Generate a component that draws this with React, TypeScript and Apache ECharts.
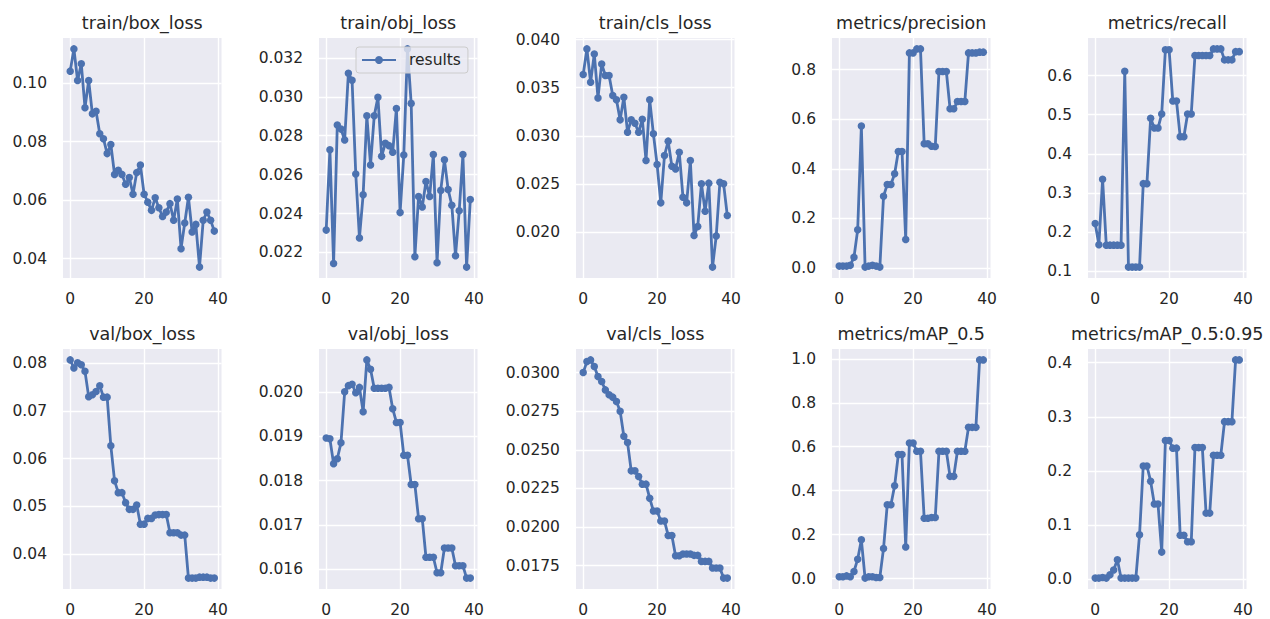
import React, { useEffect, useRef } from "react";
import * as echarts from "echarts";

// ---- data ----
const epochs = [0, 1, 2, 3, 4, 5, 6, 7, 8, 9, 10, 11, 12, 13, 14, 15, 16, 17, 18, 19, 20, 21, 22, 23, 24, 25, 26, 27, 28, 29, 30, 31, 32, 33, 34, 35, 36, 37, 38, 39];
const xTicks = [0, 20, 40];

const trainBoxLoss = [0.1041, 0.1117, 0.1009, 0.1066, 0.0916, 0.1009, 0.0895, 0.0904, 0.0827, 0.081, 0.0759, 0.079, 0.0688, 0.0702, 0.0688, 0.0654, 0.0677, 0.062, 0.0694, 0.072, 0.062, 0.0593, 0.0565, 0.0608, 0.0574, 0.0544, 0.0559, 0.0588, 0.0531, 0.0604, 0.0434, 0.0522, 0.061, 0.0491, 0.0517, 0.0371, 0.0531, 0.0559, 0.0531, 0.0494];
const trainObjLoss = [0.02315, 0.02728, 0.02144, 0.02855, 0.02834, 0.02778, 0.03121, 0.03085, 0.02603, 0.02275, 0.02497, 0.02902, 0.0265, 0.02902, 0.02997, 0.02694, 0.02761, 0.02749, 0.02715, 0.0294, 0.02405, 0.02701, 0.03246, 0.02966, 0.02178, 0.02488, 0.02434, 0.02565, 0.02488, 0.02703, 0.02147, 0.02519, 0.02676, 0.02524, 0.02443, 0.02183, 0.02414, 0.02703, 0.02125, 0.02472];
const trainClsLoss = [0.03637, 0.03903, 0.03557, 0.03851, 0.03394, 0.03747, 0.03626, 0.03626, 0.03419, 0.03374, 0.03166, 0.03401, 0.03038, 0.03166, 0.03131, 0.03038, 0.03173, 0.02744, 0.03374, 0.03021, 0.02702, 0.02304, 0.02796, 0.02945, 0.02685, 0.02657, 0.0283, 0.02363, 0.02304, 0.02744, 0.01966, 0.02059, 0.02502, 0.02218, 0.02509, 0.01637, 0.01959, 0.02519, 0.02502, 0.02173];
const precision = [0.008, 0.008, 0.008, 0.011, 0.044, 0.154, 0.572, 0.004, 0.008, 0.011, 0.008, 0.004, 0.289, 0.337, 0.337, 0.38, 0.47, 0.47, 0.115, 0.867, 0.867, 0.883, 0.883, 0.501, 0.501, 0.491, 0.49, 0.792, 0.792, 0.792, 0.642, 0.642, 0.671, 0.671, 0.671, 0.867, 0.867, 0.867, 0.87, 0.87];
const recall = [0.222, 0.168, 0.335, 0.167, 0.167, 0.167, 0.167, 0.167, 0.611, 0.111, 0.111, 0.111, 0.111, 0.324, 0.324, 0.491, 0.466, 0.466, 0.502, 0.666, 0.666, 0.535, 0.535, 0.444, 0.444, 0.502, 0.502, 0.651, 0.651, 0.651, 0.651, 0.651, 0.668, 0.668, 0.668, 0.64, 0.64, 0.64, 0.661, 0.661];
const valBoxLoss = [0.0807, 0.079, 0.0801, 0.0797, 0.0783, 0.073, 0.0734, 0.0741, 0.0753, 0.0729, 0.0729, 0.0627, 0.0554, 0.0529, 0.0529, 0.0508, 0.0494, 0.0494, 0.0503, 0.0463, 0.0463, 0.0475, 0.0475, 0.0482, 0.0483, 0.0483, 0.0483, 0.0445, 0.0445, 0.0445, 0.044, 0.044, 0.035, 0.035, 0.035, 0.0352, 0.0352, 0.0352, 0.035, 0.035];
const valObjLoss = [0.01896, 0.01894, 0.01838, 0.01849, 0.01885, 0.02, 0.02014, 0.02017, 0.01998, 0.0201, 0.01955, 0.02072, 0.02051, 0.02008, 0.02008, 0.02008, 0.02008, 0.0201, 0.01962, 0.01931, 0.01931, 0.01857, 0.01857, 0.01791, 0.01791, 0.01714, 0.01714, 0.01627, 0.01627, 0.01627, 0.01592, 0.01592, 0.01648, 0.01648, 0.01648, 0.01608, 0.01608, 0.01608, 0.0158, 0.0158];
const valClsLoss = [0.03, 0.03071, 0.03082, 0.03039, 0.02974, 0.02942, 0.02888, 0.02856, 0.02841, 0.02813, 0.0275, 0.02588, 0.02547, 0.02364, 0.02364, 0.02327, 0.02278, 0.02278, 0.02187, 0.02104, 0.02104, 0.02039, 0.02039, 0.01946, 0.01946, 0.01815, 0.01815, 0.01826, 0.01826, 0.01826, 0.01817, 0.01817, 0.01778, 0.01778, 0.01778, 0.01735, 0.01735, 0.01735, 0.0167, 0.0167];
const map50 = [0.008, 0.008, 0.012, 0.008, 0.032, 0.088, 0.176, 0.002, 0.008, 0.008, 0.005, 0.005, 0.137, 0.336, 0.336, 0.422, 0.564, 0.564, 0.144, 0.617, 0.617, 0.579, 0.579, 0.274, 0.274, 0.278, 0.278, 0.579, 0.579, 0.579, 0.465, 0.465, 0.579, 0.579, 0.579, 0.688, 0.688, 0.688, 0.995, 0.995];
const map5095 = [0.002, 0.002, 0.003, 0.002, 0.008, 0.017, 0.036, 0.002, 0.002, 0.002, 0.002, 0.002, 0.082, 0.209, 0.209, 0.181, 0.139, 0.139, 0.05, 0.256, 0.256, 0.242, 0.242, 0.081, 0.081, 0.069, 0.069, 0.243, 0.243, 0.243, 0.122, 0.122, 0.229, 0.229, 0.229, 0.291, 0.291, 0.291, 0.405, 0.405];

const trainBoxTicks = ["0.04", "0.06", "0.08", "0.10"];
const trainObjTicks = ["0.022", "0.024", "0.026", "0.028", "0.030", "0.032"];
const trainClsTicks = ["0.020", "0.025", "0.030", "0.035", "0.040"];
const precisionTicks = ["0.0", "0.2", "0.4", "0.6", "0.8"];
const recallTicks = ["0.1", "0.2", "0.3", "0.4", "0.5", "0.6"];
const valBoxTicks = ["0.04", "0.05", "0.06", "0.07", "0.08"];
const valObjTicks = ["0.016", "0.017", "0.018", "0.019", "0.020"];
const valClsTicks = ["0.0175", "0.0200", "0.0225", "0.0250", "0.0275", "0.0300"];
const map50Ticks = ["0.0", "0.2", "0.4", "0.6", "0.8", "1.0"];
const map5095Ticks = ["0.0", "0.1", "0.2", "0.3", "0.4"];

const titles = [
  "train/box_loss", "train/obj_loss", "train/cls_loss", "metrics/precision", "metrics/recall",
  "val/box_loss", "val/obj_loss", "val/cls_loss", "metrics/mAP_0.5", "metrics/mAP_0.5:0.95",
];
const seriesValues = [trainBoxLoss, trainObjLoss, trainClsLoss, precision, recall, valBoxLoss, valObjLoss, valClsLoss, map50, map5095];
const tickLabels = [trainBoxTicks, trainObjTicks, trainClsTicks, precisionTicks, recallTicks, valBoxTicks, valObjTicks, valClsTicks, map50Ticks, map5095Ticks];

// ---- layout ----
const LEFTS = [63, 319, 576, 832, 1088];
const TOPS = [38, 349];
const W = 158.5;
const H = 240;
const BG = "#EAEAF2";
const BLUE = "#4C72B0";
const TEXT = "#262626";
const FONT = "DejaVu Sans";

export default function App() {
  const ref = useRef<HTMLDivElement>(null);
  useEffect(() => {
    if (!ref.current) return;
    const chart = echarts.init(ref.current, null, { renderer: "svg" });
    const grid: any[] = [];
    const xAxis: any[] = [];
    const yAxis: any[] = [];
    const series: any[] = [];
    const graphic: any[] = [];
    titles.forEach((title, i) => {
      const row = Math.floor(i / 5);
      const col = i % 5;
      const left = LEFTS[col];
      const top = TOPS[row];
      const vals = seriesValues[i];
      const labels = tickLabels[i];
      const tickVals = labels.map(Number);
      const lo = Math.min(...vals);
      const hi = Math.max(...vals);
      const pad = (hi - lo) * 0.05;
      const xPad = (epochs[epochs.length - 1] - epochs[0]) * 0.05;
      grid.push({ left, top, width: W, height: H, show: true, backgroundColor: BG, borderWidth: 0 });
      xAxis.push({
        type: "value", gridIndex: i, min: epochs[0] - xPad, max: epochs[epochs.length - 1] + xPad,
        axisLine: { show: false }, axisTick: { show: false, customValues: xTicks },
        axisLabel: { customValues: xTicks, margin: 13, fontSize: 15.5, color: TEXT, fontFamily: FONT },
        splitLine: { show: true, lineStyle: { color: "#ffffff", width: 1.4 } },
      });
      yAxis.push({
        type: "value", gridIndex: i, min: lo - pad, max: hi + pad,
        axisLine: { show: false }, axisTick: { show: false, customValues: tickVals },
        axisLabel: {
          customValues: tickVals, margin: 16, fontSize: 15.5, color: TEXT, fontFamily: FONT,
          formatter: (v: number) => {
            const k = tickVals.findIndex((t) => Math.abs(t - v) < 1e-9);
            return k >= 0 ? labels[k] : "";
          },
        },
        splitLine: { show: true, lineStyle: { color: "#ffffff", width: 1.4 } },
      });
      series.push({
        type: "line", name: "results", xAxisIndex: i, yAxisIndex: i,
        data: epochs.map((e, k) => [e, vals[k]]),
        symbol: "circle", symbolSize: 7.5, showSymbol: true, showAllSymbol: true,
        lineStyle: { color: BLUE, width: 2.8 }, itemStyle: { color: BLUE, borderWidth: 0 },
        emphasis: { disabled: true }, z: 3,
      });
      graphic.push({
        type: "text", x: left + W / 2, y: top - 15,
        style: { text: title, fill: TEXT, font: `17.5px '${FONT}'`, textAlign: "center", textVerticalAlign: "middle" },
      });
    });
    chart.setOption({
      animation: false,
      textStyle: { fontFamily: FONT },
      grid, xAxis, yAxis, series, graphic,
      legend: {
        data: ["results"], left: 356, top: 47, orient: "horizontal",
        padding: [5, 7, 5, 5], itemWidth: 34, itemHeight: 10,
        backgroundColor: "rgba(234,234,242,0.8)", borderColor: "#CCCCCC", borderWidth: 1, borderRadius: 3,
        textStyle: { fontSize: 15.5, color: TEXT, fontFamily: FONT, padding: [0, 0, 0, 8] },
        selectedMode: false,
      },
    });
    return () => chart.dispose();
  }, []);
  return <div ref={ref} style={{ position: "absolute", left: 0, top: 0, width: 1270, height: 619 }} />;
}
